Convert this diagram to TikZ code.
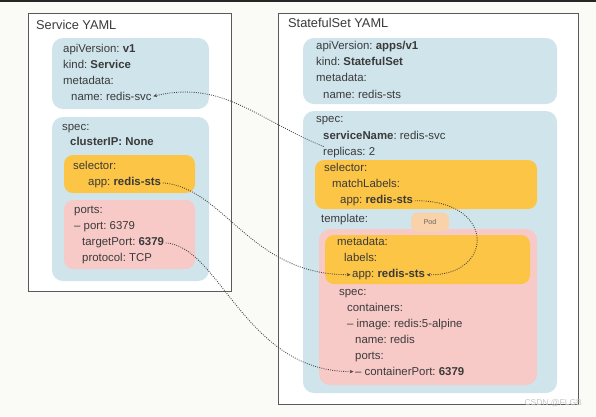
\documentclass[tikz,border=0pt]{standalone}
\usepackage{fontspec}
\setmainfont{Liberation Sans}
\usetikzlibrary{arrows.meta}
\frenchspacing

\definecolor{paper}{HTML}{FAFAF6}
\definecolor{framegray}{HTML}{5A5A5A}
\definecolor{txtgray}{HTML}{3A3A3A}
\definecolor{yamlblue}{HTML}{D0E4EC}
\definecolor{yamlorange}{HTML}{FCC545}
\definecolor{yamlpink}{HTML}{F7CAC8}
\definecolor{podpill}{HTML}{F9D2AA}
\definecolor{linkgray}{HTML}{454545}

\begin{document}
\begin{tikzpicture}[x=1pt, y=-1pt,
    ln/.style={anchor=mid west, inner sep=0pt, text=txtgray,
      font=\fontsize{11.4}{13}\selectfont},
    ttl/.style={anchor=mid west, inner sep=0pt, text=txtgray,
      font=\fontsize{12.8}{15}\selectfont},
    frame/.style={draw=framegray, line width=1pt, fill=white},
    link/.style={draw=linkgray, line width=0.85pt, dash pattern=on 0.9pt off 1.3pt,
      -{Stealth[length=3.8pt, width=3.4pt]}, shorten >=1.5pt, shorten <=1.5pt}]
    \useasboundingbox (0,0) rectangle (596,416);
    \fill[paper] (0,0) rectangle (596,416);
    \fill[black!85] (0,0) rectangle (596,2);

    % Service YAML
    \draw[frame] (28,13) rectangle (231,291);
    \fill[yamlblue, rounded corners=11pt] (52,38) rectangle (209,109);
    \fill[yamlblue, rounded corners=11pt] (52,117) rectangle (209,281);
    \fill[yamlorange, rounded corners=9pt] (64,155) rectangle (195,193);
    \fill[yamlpink, rounded corners=9pt] (64,200) rectangle (195,269);

    \node[ttl] (svctitle) at (36,27) {Service YAML};
    \node[ln] (sa1) at (63,50) {apiVersion: \textbf{v1}};
    \node[ln] (sa2) at (63,66) {kind: \textbf{Service}};
    \node[ln] (sa3) at (63,82) {metadata:};
    \node[ln] (svcname) at (71,98) {name: redis-svc};
    \node[ln] (sb1) at (62,128) {spec:};
    \node[ln] (sb2) at (70,143) {\textbf{clusterIP: None}};
    \node[ln] (sc1) at (73,167) {selector:};
    \node[ln] (svcapp) at (88,183) {app: \textbf{redis-sts}};
    \node[ln] (sd1) at (74,211) {ports:};
    \node[ln] (sd2) at (74,227) {– port: 6379};
    \node[ln] (tport) at (82,243) {targetPort: \textbf{6379}};
    \node[ln] (sd4) at (82,259) {protocol: TCP};

    % StatefulSet YAML
    \draw[frame] (278,13) rectangle (578,404);
    \fill[yamlblue, rounded corners=11pt] (303,38) rectangle (557,104);
    \fill[yamlblue, rounded corners=11pt] (303,111) rectangle (557,393);
    \fill[yamlorange, rounded corners=9pt] (315,160) rectangle (537,209);
    \fill[yamlpink, rounded corners=11pt] (319,229) rectangle (537,385);
    \fill[yamlorange, rounded corners=9pt] (325,235) rectangle (530,284);

    \node[ttl] (ststitle) at (288,25) {StatefulSet YAML};
    \node[ln] (ra1) at (316,47) {apiVersion: \textbf{apps/v1}};
    \node[ln] (ra2) at (316,63) {kind: \textbf{StatefulSet}};
    \node[ln] (ra3) at (316,79) {metadata:};
    \node[ln] (ra4) at (323,96) {name: redis-sts};
    \node[ln] (rb1) at (316,120) {spec:};
    \node[ln] (rb2) at (323,137) {\textbf{serviceName}: redis-svc};
    \node[ln] (rb3) at (323,153) {replicas: 2};
    \node[ln] (rc1) at (324,169) {selector:};
    \node[ln] (rc2) at (332,185) {matchLabels:};
    \node[ln] (stsapp) at (340,201) {app: \textbf{redis-sts}};
    \node[ln] (rtpl) at (321,220) {template:};
    \node[fill=podpill, rounded corners=7pt, minimum width=38pt, minimum height=19pt,
      inner sep=0pt, text=txtgray!80, font=\fontsize{7}{8}\selectfont] (pod) at (430,222) {Pod};
    \node[ln] (rd1) at (337,243) {metadata:};
    \node[ln] (rd2) at (344,259) {labels:};
    \node[ln] (podapp) at (352,275) {app: \textbf{redis-sts}};
    \node[ln] (re1) at (339,293) {spec:};
    \node[ln] (re2) at (347,309) {containers:};
    \node[ln] (re3) at (347,325) {– image: redis:5-alpine};
    \node[ln] (re4) at (355,341) {name: redis};
    \node[ln] (re5) at (355,357) {ports:};
    \node[ln] (cport) at (355,373) {– containerPort: \textbf{6379}};

    % links
    \draw[link] ([xshift=2pt]rb3.north west) .. controls (255,118) and (222,80) .. (svcname.east);
    \draw[link] (svcapp.east) .. controls (225,188) and (250,275) .. (podapp.west);
    \draw[link] (tport.east) .. controls (220,246) and (245,372) .. (cport.west);
    \draw[link] (stsapp.east) .. controls (497,200) and (494,276) .. (podapp.east);

    \node[anchor=mid east, inner sep=0pt, text=gray!45, font=\fontsize{8.5}{10}\selectfont]
      (mark) at (582,403) {CSDN @FLGB};
\end{tikzpicture}
\end{document}
